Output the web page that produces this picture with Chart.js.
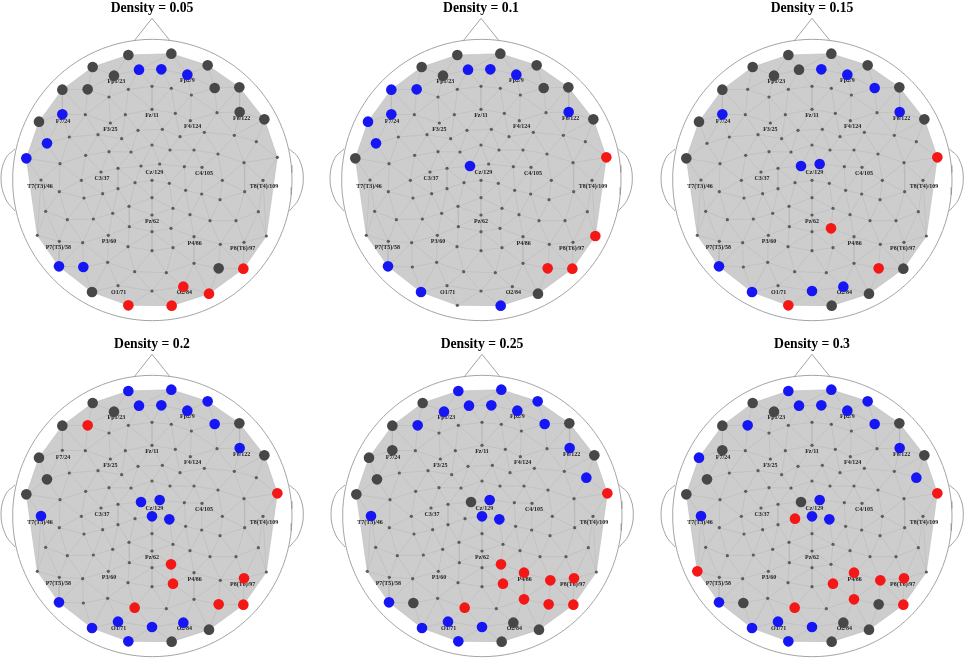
<!DOCTYPE html>
<html>
<head>
<meta charset="utf-8">
<style>
html, body { margin: 0; padding: 0; background: #fff; width: 964px; height: 661px; overflow: hidden; position: relative; }
canvas { position: absolute; }
</style>
<script src="https://cdn.jsdelivr.net/npm/chart.js@4/dist/chart.umd.js"></script>
</head>
<body>
<script>
// electrode positions (3x zoom units, x from midline)
var nodeX = [412,541,305,650,369,444,511,589,214,290,671,745,214,746,144,820,168,796,106,859,
    412,483,541,601,354,283,403,483,553,678,358,598,441,514,640,235,321,392,567,730,
    483,354,420,537,609,681,284,207,450,506,580,633,759,381,330,150,271,483,432,535,
    694,816,205,335,381,584,632,761,279,483,687,414,546,365,597,164,802,483,229,307,
    657,735,415,540,483,352,139,609,205,275,759,688,826,411,546,483,350,609,277,204,
    431,526,683,757,381,577,483,303,654,412,542];
var nodeY = [165,161,201,196,227,209,208,224,269,268,264,262,343,336,365,358,430,425,475,472,
    268,259,265,285,291,344,344,328,340,338,369,362,391,388,397,411,404,416,410,406,
    435,455,456,450,450,462,466,491,498,492,500,502,488,505,516,540,541,541,548,550,
    541,541,575,581,566,571,582,575,594,593,599,619,625,640,644,634,635,645,659,657,
    662,662,680,685,695,706,706,710,724,728,727,733,708,740,743,752,787,790,801,799,
    815,818,805,806,857,860,873,876,881,916,917];

// outer ring of the grey area, as node indices
var hullNodes = [0,1,3,11,15,19,92,103,108,110,109,107,99,86,18,14,8,2];

var densities = ['0.05','0.1','0.15','0.2','0.25','0.3'];

var dark1 = [0,1,2,3,4,8,9,10,11,13,14,15,102,107];
var blue1 = [5,6,7,12,16,18,99,98];
var red1 = [105,108,110,109,103];

var dark2 = [0,1,2,3,4,10,11,15,18,108];
var blue2 = [5,6,7,8,9,12,13,14,16,48,99,107,110];
var red2 = [19,92,102,103];

var dark3 = [0,1,2,3,4,5,8,11,14,15,18,103,108,110];
var blue3 = [6,7,10,12,13,48,49,99,107,106,105];
var red3 = [19,83,102,109];

var dark4 = [2,4,8,11,14,15,16,18,108,110];
var blue4 = [0,1,3,5,6,7,10,13,55,48,49,57,59,99,107,104,106,105,109];
var red4 = [9,19,83,94,90,100,102,103];

var dark5 = [2,8,11,12,14,15,16,18,48,98,105,108,110];
var blue5 = [0,1,3,5,6,7,4,9,10,13,17,55,49,57,59,99,107,104,106,109];
var red5 = [19,83,87,94,91,90,97,102,103,100];

var dark6 = [2,4,8,11,12,15,16,18,48,98,102,105,108,110];
var blue6 = [0,1,3,5,6,7,9,10,13,14,17,55,49,57,59,99,107,104,106,109];
var red6 = [19,58,86,87,94,91,90,97,103,100];

var darkSets = [dark1,dark2,dark3,dark4,dark5,dark6];
var blueSets = [blue1,blue2,blue3,blue4,blue5,blue6];
var redSets = [red1,red2,red3,red4,red5,red6];

var siteNames = ['Fp1/23','Fp2/9','Fz/11','F7/24','F3/25','F4/124','F8/122','C3/37','Cz/129','C4/105',
    'T7(T3)/46','T8(T4)/109','Pz/62','P7(T5)/58','P3/60','P4/86','P8(T6)/97','O1/71','O2/84'];
var siteX = [376,589,483,216,358,605,752,333,490,639,147,819,483,202,354,611,755,383,580];
var siteY = [245,242,346,363,387,380,355,534,516,521,558,558,663,742,724,729,745,876,878];

var noseX = [430,483,537];
var noseY = [122,55,122];
var leftEarX = [72,44,30,44,72];
var leftEarY = [447,475,535,597,633];
var rightEarX = [895,923,937,923,895];
var rightEarY = [447,475,535,597,633];

var panelLeft = [151.7,481,812.3,151.7,482.3,812.3];
var panelTop = [0,0,0,336,336,336];

function pt(i) {
    return { x: nodeX[i] - 483, y: nodeY[i] };
}

// the mesh is the triangulation of the electrode positions
function meshLines() {
    var n = nodeX.length, seen = {}, out = [];
    for (var a = 0; a < n; a++) for (var b = a + 1; b < n; b++) for (var c = b + 1; c < n; c++) {
        var ax = nodeX[a], ay = nodeY[a], bx = nodeX[b], by = nodeY[b], cx = nodeX[c], cy = nodeY[c];
        var d = 2 * (ax * (by - cy) + bx * (cy - ay) + cx * (ay - by));
        if (Math.abs(d) < 1e-6) continue;
        var ux = ((ax*ax+ay*ay)*(by-cy) + (bx*bx+by*by)*(cy-ay) + (cx*cx+cy*cy)*(ay-by)) / d;
        var uy = ((ax*ax+ay*ay)*(cx-bx) + (bx*bx+by*by)*(ax-cx) + (cx*cx+cy*cy)*(bx-ax)) / d;
        var r = (ax-ux)*(ax-ux) + (ay-uy)*(ay-uy);
        var empty = true;
        for (var k = 0; k < n && empty; k++) {
            if (k === a || k === b || k === c) continue;
            if ((nodeX[k]-ux)*(nodeX[k]-ux) + (nodeY[k]-uy)*(nodeY[k]-uy) < r - 1e-6) empty = false;
        }
        if (empty) { seen[a+'_'+b] = [a,b]; seen[a+'_'+c] = [a,c]; seen[b+'_'+c] = [b,c]; }
    }
    Object.keys(seen).forEach(function (key) {
        out.push(pt(seen[key][0]), pt(seen[key][1]), { x: NaN, y: NaN });
    });
    return out;
}

function headCircle() {
    var out = [];
    for (var i = 0; i <= 120; i++) {
        var t = i / 120 * Math.PI * 2;
        out.push({ x: 419 * Math.cos(t) + 1, y: 540 + 422 * Math.sin(t) });
    }
    return out;
}

function curve(xs, ys, off) {
    return xs.map(function (x, i) { return { x: x - off, y: ys[i] }; });
}

var mesh = meshLines();
var circle = headCircle();

var siteLabels = {
    id: 'siteLabels',
    afterDatasetDraw: function (chart, args) {
        if (chart.data.datasets[args.index].label !== 'sites') return;
        var c = chart.ctx;
        c.save();
        c.font = 'bold 6px "Liberation Serif"';
        c.fillStyle = '#222';
        c.textAlign = 'center';
        c.textBaseline = 'middle';
        siteNames.forEach(function (s, i) {
            c.fillText(s, chart.scales.x.getPixelForValue(siteX[i] - 483), chart.scales.y.getPixelForValue(siteY[i]));
        });
        c.restore();
    }
};

function marks(label, list, color, radius) {
    return {
        label: label, data: list.map(pt), backgroundColor: color, borderColor: color,
        pointRadius: radius, pointBorderWidth: 0
    };
}

function outline(label, data, extra) {
    return Object.assign({
        label: label, data: data, showLine: true, pointRadius: 0,
        borderColor: '#9a9a9a', borderWidth: 0.9, tension: 0
    }, extra || {});
}

densities.forEach(function (d, p) {
    var cv = document.createElement('canvas');
    cv.width = 308;
    cv.height = 325;
    cv.style.left = (panelLeft[p] - 154) + 'px';
    cv.style.top = panelTop[p] + 'px';
    document.body.appendChild(cv);

    var taken = {};
    darkSets[p].concat(blueSets[p], redSets[p]).forEach(function (i) { taken[i] = true; });
    var small = nodeX.map(function (v, i) { return i; }).filter(function (i) { return !taken[i]; });

    new Chart(cv, {
        type: 'scatter',
        plugins: [siteLabels],
        data: {
            datasets: [
                marks('red', redSets[p], '#f51616', 5.3),
                marks('blue', blueSets[p], '#1616f5', 5.3),
                marks('dark', darkSets[p], '#474747', 5.3),
                marks('sites', small, '#5c5c5c', 1.6),
                outline('mesh', mesh, { borderColor: '#b6b6b6', borderWidth: 0.5, spanGaps: false }),
                outline('hull', hullNodes.map(pt).concat([pt(hullNodes[0])]), {
                    borderWidth: 0, fill: 'shape', backgroundColor: '#cdcdcd'
                }),
                outline('head', circle),
                outline('nose', curve(noseX, noseY, 483)),
                outline('leftEar', curve(leftEarX, leftEarY, 483), { tension: 0.4 }),
                outline('rightEar', curve(rightEarX, rightEarY, 483), { tension: 0.4 })
            ]
        },
        options: {
            responsive: false,
            animation: false,
            events: [],
            layout: { padding: 0, autoPadding: false },
            plugins: {
                legend: { display: false },
                tooltip: { enabled: false },
                title: {
                    display: true,
                    text: 'Density = ' + d,
                    color: '#000',
                    font: { family: '"Liberation Serif"', size: 13.7, weight: 'bold' },
                    padding: 0
                }
            },
            scales: {
                x: { display: false, min: -462, max: 462 },
                y: { display: false, reverse: true, min: 49.3, max: 975 }
            }
        }
    });
});
</script>
</body>
</html>
